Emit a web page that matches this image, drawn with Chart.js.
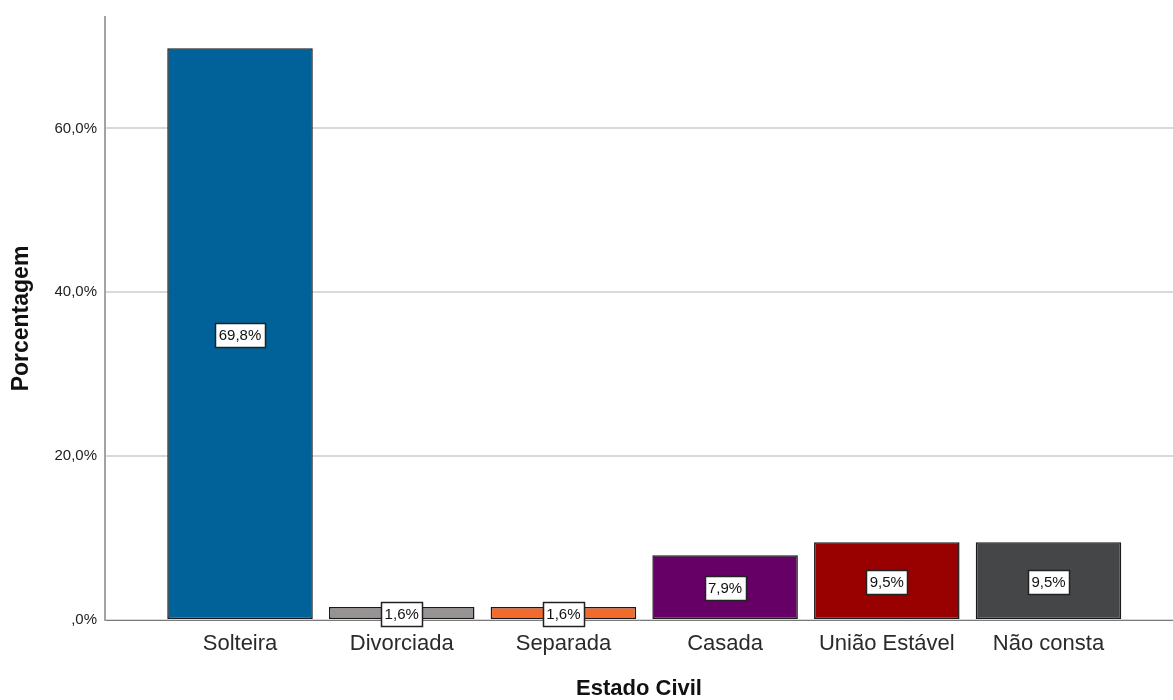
<!DOCTYPE html>
<html>
<head>
<meta charset="utf-8">
<script src="https://cdn.jsdelivr.net/npm/chart.js@4/dist/chart.umd.min.js"></script>
<style>
  html, body { margin: 0; padding: 0; background: #fff; }
  #wrap { width: 1173px; height: 700px; position: relative; }
</style>
</head>
<body>
<div id="wrap"><canvas id="chart"></canvas></div>
<script>
const categories = ["Solteira", "Divorciada", "Separada", "Casada", "União Estável", "Não consta"];
const percentages = [69.8, 1.6, 1.6, 7.9, 9.5, 9.5];
const barColors = ["#006298", "#979393", "#f26a2c", "#660066", "#990000", "#454648"];
const yTicks = [0, 20, 40, 60];
const yTickLabels = [",0%", "20,0%", "40,0%", "60,0%"];

const FONT = "'Liberation Sans', Arial, sans-serif";

function formatPct(value) {
  return value.toFixed(1).replace(".", ",") + "%";
}

// boxed value labels in the middle of each bar
const barLabels = {
  id: "barLabels",
  afterDatasetsDraw(chart) {
    const ctx = chart.ctx;
    const meta = chart.getDatasetMeta(0);
    ctx.save();
    ctx.font = "15px " + FONT;
    ctx.textAlign = "center";
    ctx.textBaseline = "middle";
    meta.data.forEach((bar, i) => {
      const text = formatPct(percentages[i]);
      const w = Math.round(ctx.measureText(text).width + 7);
      const h = 24;
      const cx = bar.x;
      const cy = (bar.y + bar.base) / 2 + 1;
      const left = Math.round(cx - w / 2) + 0.5;
      const top = Math.round(cy - h / 2) + 0.5;
      ctx.fillStyle = "#ffffff";
      ctx.fillRect(left, top, w, h);
      ctx.strokeStyle = "#222222";
      ctx.lineWidth = 1.5;
      ctx.strokeRect(left, top, w, h);
      ctx.fillStyle = "#111111";
      ctx.fillText(text, cx, cy + 1);
    });
    ctx.restore();
  }
};

const context = document.getElementById("chart").getContext("2d");
new Chart(context, {
  type: "bar",
  data: {
    datasets: [{
      data: percentages.map((v, i) => ({ x: i, y: v })),
      backgroundColor: barColors,
      borderColor: "#1a1a1a",
      borderWidth: 1.5,
      borderSkipped: false,
      barPercentage: 0.9,
      categoryPercentage: 1
    }]
  },
  options: {
    responsive: true,
    maintainAspectRatio: false,
    animation: false,
    events: [],
    layout: { padding: { top: 14, left: 0, right: 0, bottom: 0 } },
    plugins: {
      legend: { display: false },
      tooltip: { enabled: false }
    },
    scales: {
      x: {
        type: "linear",
        offset: false,
        min: -0.835,
        max: 5.77,
        grid: { display: false, drawTicks: false },
        border: { display: true, color: "#7a7a7a", width: 1 },
        ticks: {
          stepSize: 1,
          includeBounds: false,
          autoSkip: false,
          maxRotation: 0,
          padding: 11,
          color: "#2a2a2a",
          font: { family: FONT, size: 22 },
          callback: (value) => categories[value] ?? ""
        },
        title: {
          display: true,
          text: "Estado Civil",
          color: "#111111",
          font: { family: FONT, size: 22, weight: "bold", lineHeight: 1 },
          padding: { top: 0, bottom: 0 }
        },
        afterFit: (scale) => { scale.height = 80; }
      },
      y: {
        min: 0,
        max: 73.6,
        grid: { color: "#d9d9d9", lineWidth: 2, drawTicks: false },
        border: { display: true, color: "#a3a3a3", width: 2 },
        afterBuildTicks: (scale) => { scale.ticks = yTicks.map((v) => ({ value: v })); },
        ticks: {
          padding: 8,
          color: "#222222",
          font: { family: FONT, size: 15 },
          callback: (value) => yTickLabels[yTicks.indexOf(value)]
        },
        title: {
          display: true,
          text: "Porcentagem",
          color: "#111111",
          font: { family: FONT, size: 23, weight: "bold" },
          padding: { top: 8, bottom: 0 }
        },
        afterFit: (scale) => { scale.width = 105; }
      }
    }
  },
  plugins: [barLabels]
});
</script>
</body>
</html>
